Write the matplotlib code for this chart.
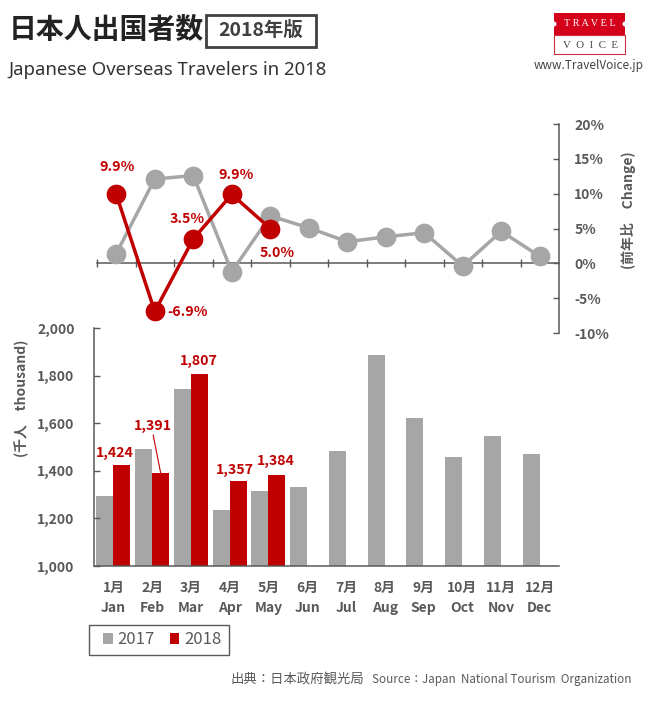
import matplotlib
matplotlib.use("Agg")
import matplotlib.pyplot as plt
from matplotlib.patches import Rectangle, Circle
from matplotlib.transforms import Affine2D
from matplotlib.ticker import FuncFormatter

W, H = 655, 701
plt.rcParams['font.family'] = ['Noto Sans CJK JP', 'DejaVu Sans']

months_ja = ['1月', '2月', '3月', '4月', '5月', '6月', '7月', '8月', '9月', '10月', '11月', '12月']
months_en = ['Jan', 'Feb', 'Mar', 'Apr', 'May', 'Jun', 'Jul', 'Aug', 'Sep', 'Oct', 'Nov', 'Dec']
visitors_2017 = [1295, 1493, 1745, 1234, 1316, 1333, 1482, 1885, 1623, 1460, 1548, 1469]
visitors_2018 = [1424, 1391, 1807, 1357, 1384]
change_2017 = [1.4, 12.1, 12.6, -1.2, 6.8, 5.1, 3.1, 3.8, 4.4, -0.4, 4.6, 1.0]
change_2018 = [9.9, -6.9, 3.5, 9.9, 5.0]
count_ticks = [1000, 1200, 1400, 1600, 1800, 2000]
pct_ticks = [-10, -5, 0, 5, 10, 15, 20]

GRAY, RED, TXT, AXC = '#A6A6A6', '#C00000', '#595959', '#595959'

fig = plt.figure(figsize=(W / 100, H / 100), dpi=100, facecolor='white')
px = Affine2D().scale(1, -1).translate(0, H)


def axes_px(l, t, r, b):
    return fig.add_axes([l / W, 1 - b / H, (r - l) / W, (b - t) / H])


def txt(x, y, s, **kw):
    kw.setdefault('ha', 'left')
    kw.setdefault('va', 'center')
    return fig.text(x, y, s, transform=px, **kw)


# ---- bars
ax = axes_px(94, 328, 559, 566)
x = list(range(12))
bw = 0.44
ax.bar([i - bw / 2 for i in x], visitors_2017, bw, color=GRAY, label='2017')
ax.bar([i + bw / 2 for i in range(5)], visitors_2018, bw, color=RED, label='2018')
ax.set_xlim(-0.5, 11.5)
ax.set_ylim(1000, 2000)
ax.set_yticks(count_ticks)
ax.yaxis.set_major_formatter(FuncFormatter(lambda v, _: f'{int(v):,}'))
ax.set_xticks(x)
ax.set_xticklabels([f'{a}\n{b}' for a, b in zip(months_ja, months_en)], linespacing=1.6)
for s in ('top', 'right'):
    ax.spines[s].set_visible(False)
for s in ('left', 'bottom'):
    ax.spines[s].set_color(AXC)
    ax.spines[s].set_linewidth(1.1)
ax.tick_params(axis='y', direction='in', length=4, width=1, color=AXC, pad=14,
               labelcolor=TXT, labelsize=10)
ax.tick_params(axis='x', length=0, pad=10.5, labelcolor=TXT, labelsize=10)
for t in ax.get_xticklabels() + ax.get_yticklabels():
    t.set_fontweight('bold')

# bar value labels: pixel offsets from each bar top
bar_offsets = [(-7, 12), (-8, 47), (-0.5, 13), (-3, 11), (-1, 14)]
for i, (v, off) in enumerate(zip(visitors_2018, bar_offsets)):
    ax.annotate(f'{v:,}', (i + bw / 2, v), xytext=(off[0] * .72, off[1] * .72),
                textcoords='offset points', ha='center', va='center',
                color=RED, fontsize=10.2, fontweight='bold', annotation_clip=False)
ax.annotate('', (1 + bw / 2, visitors_2018[1]), xytext=(-5.4, 27.4),
            textcoords='offset points',
            arrowprops=dict(arrowstyle='-', color=RED, lw=0.8, shrinkA=0, shrinkB=0))

# ---- line panel
ax2 = axes_px(97, 124, 559, 333)
ax2.patch.set_alpha(0)
ax2.plot(x, change_2017, '-o', color=GRAY, lw=2.5, ms=14.2, mew=0, clip_on=False, zorder=3)
ax2.plot(range(5), change_2018, '-o', color=RED, lw=2.5, ms=14.2, mew=0, clip_on=False, zorder=4)
ax2.set_xlim(-0.5, 11.5)
ax2.set_ylim(-10, 20)
for s in ('top', 'left'):
    ax2.spines[s].set_visible(False)
ax2.spines['bottom'].set_position(('data', 0))
ax2.spines['bottom'].set_color(AXC)
ax2.spines['bottom'].set_linewidth(1.1)
ax2.spines['right'].set_color(AXC)
ax2.spines['right'].set_linewidth(1.1)
ax2.set_xticks([i - 0.5 for i in range(12)])
ax2.set_xticklabels([])
ax2.tick_params(axis='x', direction='inout', length=6, width=1, color=AXC)
ax2.yaxis.tick_right()
ax2.set_yticks(pct_ticks)
ax2.set_yticklabels([f'{v}%' for v in pct_ticks], fontweight='bold')
ax2.tick_params(axis='y', direction='in', length=4, width=1, color=AXC, pad=11,
                labelcolor=TXT, labelsize=10)

pct_offsets = [(1, 27), (33, -1), (-6, 20), (4, 19), (7, -24)]
for i, (v, off) in enumerate(zip(change_2018, pct_offsets)):
    ax2.annotate(f'{v}%', (i, v), xytext=(off[0] * .72, off[1] * .72),
                 textcoords='offset points', ha='center', va='center',
                 color=RED, fontsize=10.2, fontweight='bold', annotation_clip=False, zorder=5)

# ---- legend
fig.patches.append(Rectangle((89, 625), 140, 30, transform=px, fc='white', ec=TXT, lw=1))
handles, labels = ax.get_legend_handles_labels()
leg = fig.legend(handles, labels, loc='center left', bbox_to_anchor=(103 / W, 1 - 640 / H),
                 ncol=2, fontsize=12, frameon=False, handlelength=0.58, handleheight=0.58,
                 handletextpad=0.29, columnspacing=0.9, borderpad=0, borderaxespad=0,
                 labelcolor=TXT)

# ---- axis captions
txt(22, 398, '(千人\u3000thousand)', rotation=90, ha='center', color=TXT, fontsize=10, fontweight='bold')
txt(628, 210, '(前年比\u3000Change)', rotation=90, ha='center', color=TXT, fontsize=10, fontweight='bold')

# ---- header
txt(9, 30, '日本人出国者数', fontsize=20.1, fontweight='bold', color='#222222')
fig.patches.append(Rectangle((205.5, 15), 110, 31.5, transform=px, fc='white', ec='#404040', lw=2))
txt(261, 30.5, '2018年版', ha='center', fontsize=14, fontweight='bold', color='#404040')
txt(8, 70, 'Japanese Overseas Travelers in 2018', fontsize=13.35, color='#333333',
    family='Noto Sans')

# ---- logo
fig.patches.append(Rectangle((554, 35), 71, 18.5, transform=px, fc='white', ec='#C8303F', lw=0.8))
fig.patches.append(Rectangle((554, 13), 71, 22, transform=px, fc='#D50019', ec='none'))
fig.patches.append(Circle((554, 24), 2.5, transform=px, fc='white', ec='none'))
fig.patches.append(Circle((625, 24), 2.5, transform=px, fc='white', ec='none'))
txt(589.5, 24, 'T R A V E L', ha='center', fontsize=7.4, color='white', family='Liberation Serif')
txt(590.5, 45, 'V  O  I  C  E', ha='center', fontsize=7.8, color='#444444', family='Liberation Serif')
txt(589, 66, 'www.TravelVoice.jp', ha='center', fontsize=8.5, color='#444444')

# ---- source
txt(231, 680, '出典：日本政府観光局', fontsize=9.6, color=TXT)
txt(372, 680, 'Source：Japan  National Tourism  Organization', fontsize=8.4, color=TXT)

fig.savefig('out.png', dpi=100)
